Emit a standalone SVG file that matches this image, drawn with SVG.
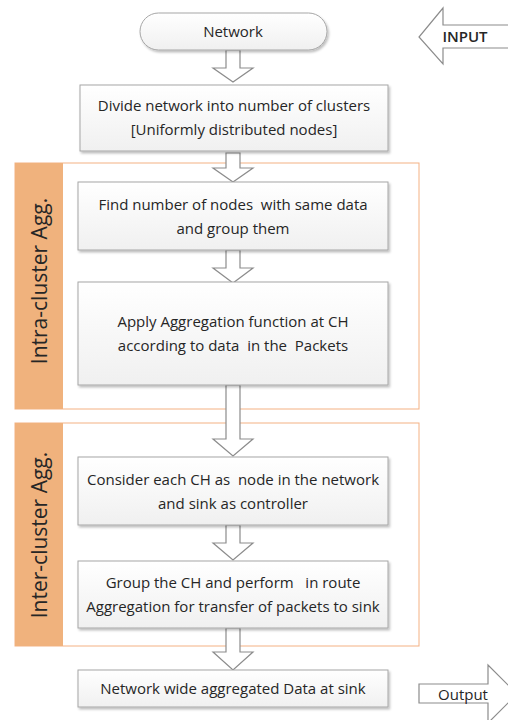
<svg xmlns="http://www.w3.org/2000/svg" width="508" height="720" viewBox="0 0 508 720" xml:space="preserve">
<style>
.box{fill:url(#g);stroke:#a6a6a6;stroke-width:1;filter:url(#sh)}
.arr{fill:#fff;stroke:#8c8c8c;stroke-width:1.2;stroke-linejoin:miter}
.t{font-family:"Open Sans","Liberation Sans",sans-serif;font-size:15px;fill:#262626;text-anchor:middle;white-space:pre}
.side{font-family:"Open Sans","Liberation Sans",sans-serif;font-size:21px;fill:#262626;text-anchor:middle}
.cont{fill:#fff;stroke:#f4b183;stroke-width:1}
.bar{fill:#f0b27d}
</style>
<defs>
<linearGradient id="g" x1="0" y1="0" x2="0" y2="1">
<stop offset="0" stop-color="#ffffff"/>
<stop offset="1" stop-color="#f0f0f0"/>
</linearGradient>
<filter id="sh" x="-5%" y="-10%" width="115%" height="130%">
<feDropShadow dx="1.5" dy="2" stdDeviation="1.2" flood-color="#000" flood-opacity="0.25"/>
</filter>
</defs>
<rect width="508" height="720" fill="#fff"/>

<g id="intra-container">
<rect class="cont" x="15" y="163" width="404" height="246"/>
<rect class="bar" x="15" y="163" width="48" height="246"/>
<text class="side" transform="translate(47,281) rotate(-90)">Intra-cluster Agg.</text>
</g>
<g id="inter-container">
<rect class="cont" x="15" y="423" width="404" height="223"/>
<rect class="bar" x="15" y="423" width="48" height="223"/>
<text class="side" transform="translate(47,535) rotate(-90)">Inter-cluster Agg.</text>
</g>

<g id="connectors">
<path class="arr" d="M226,50 V68 H213 L233,82 L253,68 H240 V50 Z"/>
<path class="arr" d="M226,153 V168 H213 L233,182 L253,168 H240 V153 Z"/>
<path class="arr" d="M226,250 V268 H213 L233,283 L253,268 H240 V250 Z"/>
<path class="arr" d="M226,385 V439 H213 L233,456 L253,439 H240 V385 Z"/>
<path class="arr" d="M226,525 V543 H213 L233,560 L253,543 H240 V525 Z"/>
<path class="arr" d="M226,628 V652 H213 L233,670 L253,652 H240 V628 Z"/>
</g>

<g id="input">
<path class="arr" d="M510,25 H443 V8 L419,37 L443,64 V48 H510"/>
<text class="t" x="465" y="42" font-weight="600" font-size="14">INPUT</text>
</g>

<g id="network">
<rect class="box" x="140" y="13" width="187" height="37" rx="18.5"/>
<text class="t" x="233" y="37">Network</text>
</g>

<g id="divide">
<rect class="box" x="80" y="85" width="308" height="66"/>
<text class="t" x="234" y="111">Divide network into number of clusters</text>
<text class="t" x="234" y="135">[Uniformly distributed nodes]</text>
</g>

<g id="find">
<rect class="box" x="78" y="182" width="310" height="68"/>
<text class="t" x="233" y="210">Find number of nodes  with same data</text>
<text class="t" x="233" y="234">and group them</text>
</g>

<g id="apply">
<rect class="box" x="78" y="282" width="310" height="103"/>
<text class="t" x="233" y="327">Apply Aggregation function at CH</text>
<text class="t" x="233" y="351">according to data  in the  Packets</text>
</g>

<g id="consider">
<rect class="box" x="78" y="457" width="310" height="68"/>
<text class="t" x="233" y="485">Consider each CH as  node in the network</text>
<text class="t" x="233" y="509">and sink as controller</text>
</g>

<g id="group">
<rect class="box" x="78" y="561" width="310" height="67"/>
<text class="t" x="233" y="588">Group the CH and perform   in route</text>
<text class="t" x="233" y="612">Aggregation for transfer of packets to sink</text>
</g>

<g id="final">
<rect class="box" x="78" y="670" width="310" height="37"/>
<text class="t" x="233" y="694">Network wide aggregated Data at sink</text>
</g>

<g id="output">
<path class="arr" d="M419,684 H488 V665 L517,694 L488,723 V703 H419 Z"/>
<text class="t" x="463" y="700">Output</text>
</g>
</svg>
